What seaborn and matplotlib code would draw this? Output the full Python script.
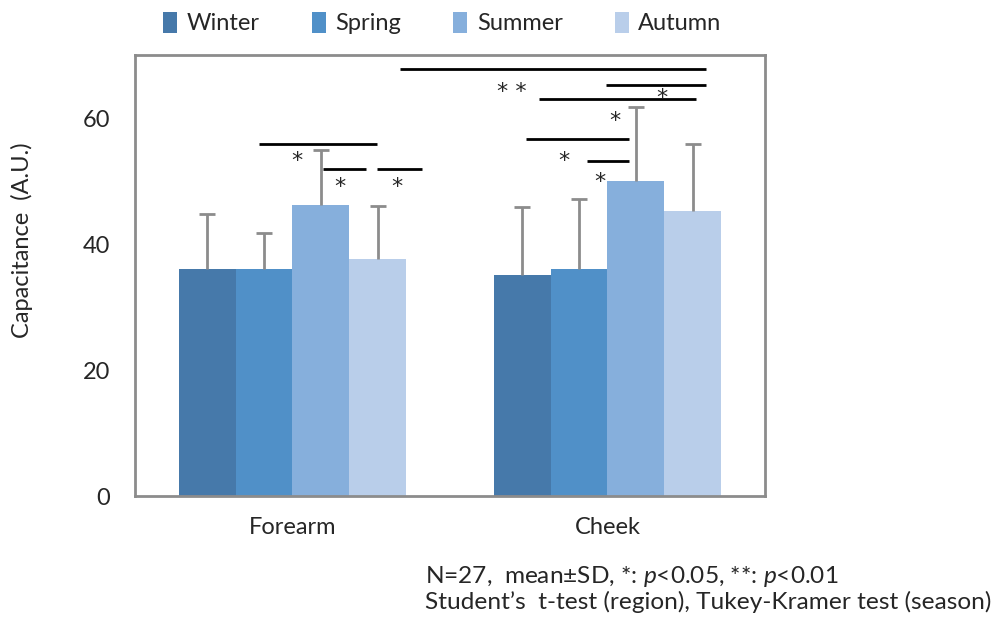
import pandas as pd
import numpy as np
import matplotlib
matplotlib.use('Agg')
import matplotlib.pyplot as plt
import seaborn as sns
from matplotlib.patches import Patch

regions = ['Forearm', 'Cheek']
seasons = ['Winter', 'Spring', 'Summer', 'Autumn']
means = {
    'Winter': [36.0, 35.1],
    'Spring': [36.0, 36.0],
    'Summer': [46.2, 50.0],
    'Autumn': [37.7, 45.3],
}
sds = {
    'Winter': [8.7, 10.8],
    'Spring': [5.8, 11.2],
    'Summer': [8.7, 11.8],
    'Autumn': [8.3, 10.5],
}
colors = ['#4679AA', '#5090C8', '#86AFDC', '#B9CEEA']

# significance brackets: (x start, x end, y) in data units
brackets = [(-0.105, 0.268, 55.9), (0.098, 0.234, 51.9), (0.268, 0.411, 51.9),
            (0.342, 1.314, 67.8), (0.995, 1.314, 65.2), (0.784, 1.281, 63.0),
            (0.742, 1.069, 56.6), (0.936, 1.069, 53.2)]
stars = [(0.015, 53.2, '*'), (0.149, 49.1, '*'), (0.332, 49.1, '*'),
         (0.696, 64.2, '* *'), (1.174, 63.2, '*'), (1.024, 59.6, '*'),
         (0.862, 53.2, '*'), (0.976, 49.9, '*')]

rows = []
for s in seasons:
    for i, r in enumerate(regions):
        rows.append({'region': r, 'season': s, 'value': means[s][i]})
df = pd.DataFrame(rows)

sns.set_style('white')
plt.rcParams['font.family'] = ['Lato', 'DejaVu Sans']
plt.rcParams['mathtext.fontset'] = 'custom'
plt.rcParams['mathtext.it'] = 'Lato:italic'
plt.rcParams['mathtext.rm'] = 'Lato'

fig = plt.figure(figsize=(9.94, 6.24), dpi=100)
ax = fig.add_axes([0.1358, 0.2051, 0.6338, 0.7067])

sns.barplot(data=df, x='region', y='value', hue='season', hue_order=seasons,
            palette=colors, saturation=1, width=0.72, gap=0, errorbar=None,
            linewidth=0, legend=False, ax=ax)

for s, cont in zip(seasons, ax.containers):
    xs = [b.get_x() + b.get_width() / 2 for b in cont]
    hs = [b.get_height() for b in cont]
    eb = ax.errorbar(xs, hs, yerr=[np.zeros(len(hs)), sds[s]], fmt='none',
                     ecolor='#8c8c8c', elinewidth=2, capsize=6, capthick=2, zorder=1)
    eb[1][0].set_visible(False)  # no cap at the bar top

for x0, x1, y in brackets:
    ax.plot([x0, x1], [y, y], color='black', lw=2, solid_capstyle='butt', clip_on=False)
for x, y, t in stars:
    ax.text(x, y, t, ha='center', va='center', fontsize=16, family='DejaVu Sans')

ax.set_xlim(-0.5, 1.5)
ax.set_ylim(0, 70)
ax.set_yticks([0, 20, 40, 60])
ax.set_xlabel('')
ax.set_ylabel('Capacitance  (A.U.)', fontsize=17)
ax.yaxis.set_label_coords(-0.162, 0.58)
ax.tick_params(axis='y', direction='in', length=5, width=1.5, color='#8c8c8c',
               labelsize=17, pad=18)
ax.tick_params(axis='x', length=0, labelsize=17, pad=15)
for sp in ax.spines.values():
    sp.set_visible(True)
    sp.set_color('#8c8c8c')
    sp.set_linewidth(2)

handles = [Patch(facecolor=c, edgecolor='none') for c in colors]
fig.legend(handles, seasons, loc='center', bbox_to_anchor=(0.445, 0.963), ncol=4,
           frameon=False, fontsize=17, handlelength=0.6, handleheight=1.0,
           handletextpad=0.4, columnspacing=2.2)

fig.text(0.428, 0.0657, 'N=27,  mean\u00b1SD, *: $\\it{p}$<0.05, **: $\\it{p}$<0.01',
         fontsize=17.6, va='baseline')
fig.text(0.428, 0.024, 'Student\u2019s  t-test (region), Tukey-Kramer test (season)',
         fontsize=17.6, va='baseline')

fig.savefig('out.png', dpi=100)
